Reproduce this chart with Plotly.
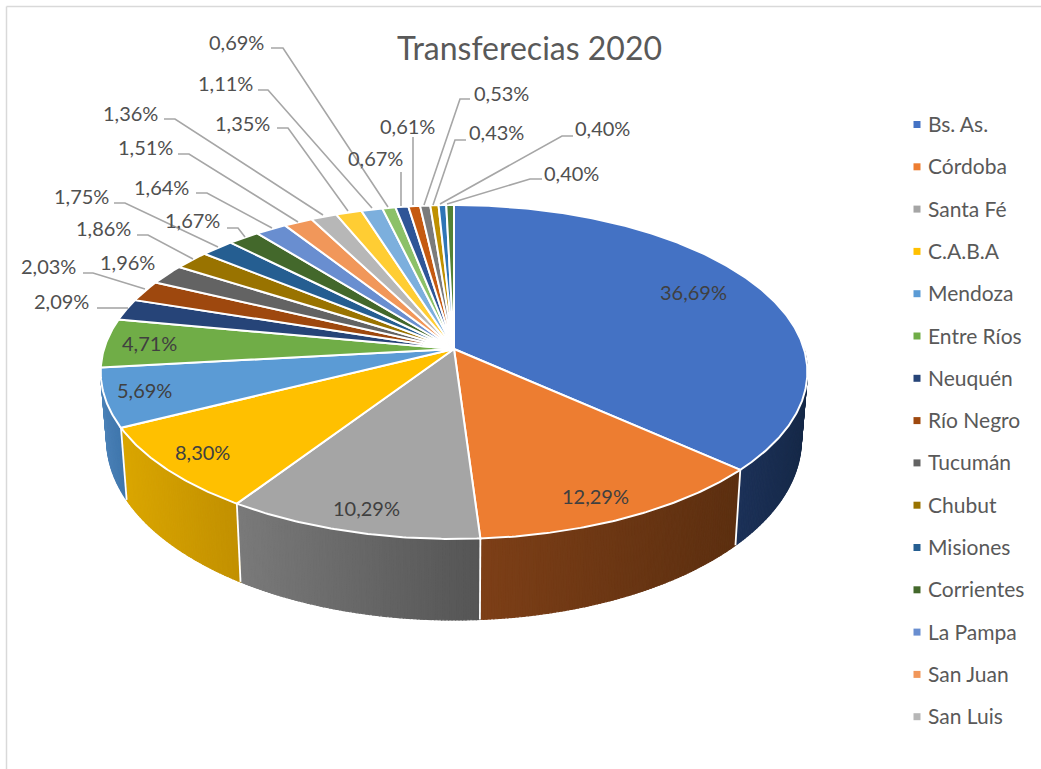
"""3D-look pie of the 2020 transfers, drawn on a pixel-sized cartesian plot."""

import math

import plotly.graph_objects as go

title = "Transferecias 2020"

names = ["Bs. As.", "Córdoba", "Santa Fé", "C.A.B.A", "Mendoza", "Entre Ríos",
         "Neuquén", "Río Negro", "Tucumán", "Chubut", "Misiones", "Corrientes",
         "La Pampa", "San Juan", "San Luis"]

values = [36.69, 12.29, 10.29, 8.30, 5.69, 4.71, 2.09, 2.03, 1.96, 1.86, 1.75, 1.67,
          1.64, 1.51, 1.36, 1.35, 1.11, 0.69, 0.67, 0.61, 0.53, 0.43, 0.40, 0.40]

colors = ["#4472C4", "#ED7D31", "#A5A5A5", "#FFC000", "#5B9BD5", "#70AD47",
          "#264478", "#9E480E", "#636363", "#997300", "#255E91", "#43682B",
          "#698ED0", "#F1975A", "#B7B7B7", "#FFCD33", "#7CAFDD", "#8CC168",
          "#2F5597", "#C55A11", "#7B7B7B", "#BF9000", "#2E75B6", "#548235"]

# wall shading of the five slices that face the viewer: (left colour, right colour)
side_shades = [("#1C3158", "#162948"), ("#7D3F17", "#5C2F10"), ("#7A7A7A", "#555555"),
               ("#DAA600", "#C29000"), ("#4A80B6", "#3F76AC")]

# label centres in pixels
label_xy = [(693, 292), (595, 496), (366, 508), (202, 452), (144, 390), (149, 343),
            (61, 301), (48, 266), (127, 262), (103, 228), (81, 196), (192, 220),
            (161, 187), (145, 147), (130, 113), (242, 123), (225, 83), (236, 42),
            (375, 158), (407, 126), (501, 93), (496, 132), (602, 128), (571, 173)]

# leader lines, one pixel path per outer label
leaders = [
    [(97, 308), (128, 308)],
    [(83, 273), (93, 273), (145, 289)],
    [(137, 235), (148, 235), (193, 259)],
    [(114, 203), (125, 203), (218, 247)],
    [(227, 228), (238, 228), (245, 237)],
    [(196, 193), (207, 193), (272, 228)],
    [(178, 154), (189, 154), (298, 222)],
    [(164, 119), (175, 119), (323, 215)],
    [(277, 128), (288, 128), (348, 211)],
    [(258, 90), (268, 90), (372, 208)],
    [(271, 48), (283, 48), (388, 207)],
    [(401, 172), (401, 206)],
    [(413, 137), (413, 205)],
    [(470, 99), (460, 99), (424, 205)],
    [(466, 140), (455, 140), (433, 205)],
    [(573, 136), (562, 136), (440, 204)],
    [(542, 179), (530, 179), (447, 204)],
]

# Perspective disc: apex in pixels, half width, half height, foreshortening.
CX, CY = 454, 349
AX, AY = 350, 163.8
K = 0.1376
WALL_BOTTOM = 620
FRONT_Y = 539

# Legend rows, in pixels
LEGEND_KEY_X = 917
LEGEND_TEXT_X = 926
LEGEND_TOP = 124.5
LEGEND_STEP = 42.3


def top_point(deg):
    th = math.radians(deg)
    u, v = math.sin(th), math.cos(th)
    d = 1 + K * v
    return CX + AX * u / d, CY - AY * v / d


def bottom_point(deg):
    x, y = top_point(deg)
    return CX + (x - CX) * 0.983, WALL_BOTTOM + 1.08 * (y - FRONT_Y)


def mix(c1, c2, t):
    a = [int(c1[i:i + 2], 16) for i in (1, 3, 5)]
    b = [int(c2[i:i + 2], 16) for i in (1, 3, 5)]
    return "rgb({},{},{})".format(*[round(p + (q - p) * t) for p, q in zip(a, b)])


def arc(start, end):
    n = max(2, int((end - start) * 2))
    return [start + (end - start) * i / n for i in range(n + 1)]


total = sum(values)
edges = [0.0]
for v in values:
    edges.append(edges[-1] + v / total * 360)

fig = go.Figure()

# Outer wall: thin strips give the left-right gradient, a white rule splits slices.
for i, (left, right) in enumerate(side_shades):
    start, end = max(edges[i], 90), edges[i + 1]
    pts = arc(start, end)
    xs = [top_point(p)[0] for p in pts]
    lo, hi = min(xs), max(xs)
    for a, b in zip(pts[:-1], pts[1:]):
        t = (top_point(a)[0] - lo) / (hi - lo)
        p1, p2, p3, p4 = top_point(a), top_point(b), bottom_point(b), bottom_point(a)
        col = mix(left, right, t)
        fig.add_trace(go.Scatter(
            x=[p1[0], p2[0], p3[0], p4[0], p1[0]], y=[p1[1], p2[1], p3[1], p4[1], p1[1]],
            mode="lines", fill="toself", fillcolor=col, line={"color": col, "width": 1.2},
            hoverinfo="skip", showlegend=False))
for i in range(1, len(side_shades)):
    p1, p4 = top_point(edges[i]), bottom_point(edges[i])
    fig.add_trace(go.Scatter(
        x=[p1[0], p4[0]], y=[p1[1], p4[1]], mode="lines",
        line={"color": "white", "width": 1.8}, hoverinfo="skip", showlegend=False))

# Top face
for i, v in enumerate(values):
    pts = [top_point(p) for p in arc(edges[i], edges[i + 1])]
    fig.add_trace(go.Scatter(
        x=[CX] + [p[0] for p in pts] + [CX], y=[CY] + [p[1] for p in pts] + [CY],
        mode="lines", fill="toself", fillcolor=colors[i],
        line={"color": "white", "width": 2}, hoverinfo="skip", showlegend=False))

# Leader lines
lx, ly = [], []
for path in leaders:
    lx += [p[0] for p in path] + [None]
    ly += [p[1] for p in path] + [None]
fig.add_trace(go.Scatter(x=lx, y=ly, mode="lines", line={"color": "#A6A6A6", "width": 1.6},
                         hoverinfo="skip", showlegend=False))

# Legend, as in the source only the first 15 rows fit
rows = [LEGEND_TOP + LEGEND_STEP * i for i in range(len(names))]
fig.add_trace(go.Scatter(
    x=[LEGEND_KEY_X] * len(names), y=rows, mode="markers", text=names, hoverinfo="text",
    marker={"symbol": "square", "size": 7, "color": colors[:len(names)]}, showlegend=False))
for name, y in zip(names, rows):
    fig.add_annotation(x=LEGEND_TEXT_X, y=y - 1, text=name, showarrow=False, xanchor="left",
                       font={"family": "Lato", "size": 21, "color": "#595959"})

for i, (v, (x, y)) in enumerate(zip(values, label_xy)):
    fig.add_annotation(x=x, y=y, text=f"{v:.2f}%".replace(".", ","), showarrow=False,
                       font={"family": "Lato", "size": 20,
                             "color": "#404040" if i < 6 else "#505050"})

fig.add_annotation(x=529, y=47, text=title, showarrow=False,
                   font={"family": "Lato", "size": 32, "color": "#595959"})

# Chart frame
fig.add_shape(type="line", x0=6.5, x1=6.5, y0=6.5, y1=769, line={"color": "#D9D9D9", "width": 1.5})
fig.add_shape(type="line", x0=6.5, x1=1041, y0=6.5, y1=6.5, line={"color": "#D9D9D9", "width": 1.5})

fig.update_layout(
    width=1041, height=769, autosize=False,
    margin={"l": 0, "r": 0, "t": 0, "b": 0},
    paper_bgcolor="white", plot_bgcolor="white",
    showlegend=False,
    xaxis={"range": [0, 1041], "visible": False},
    yaxis={"range": [769, 0], "visible": False},
)

# the page's default 8px body margin would push the pixel-sized plot off-canvas
fig.write_html("out.html", config={"displayModeBar": False},
               post_script="document.body.style.margin='0';")
